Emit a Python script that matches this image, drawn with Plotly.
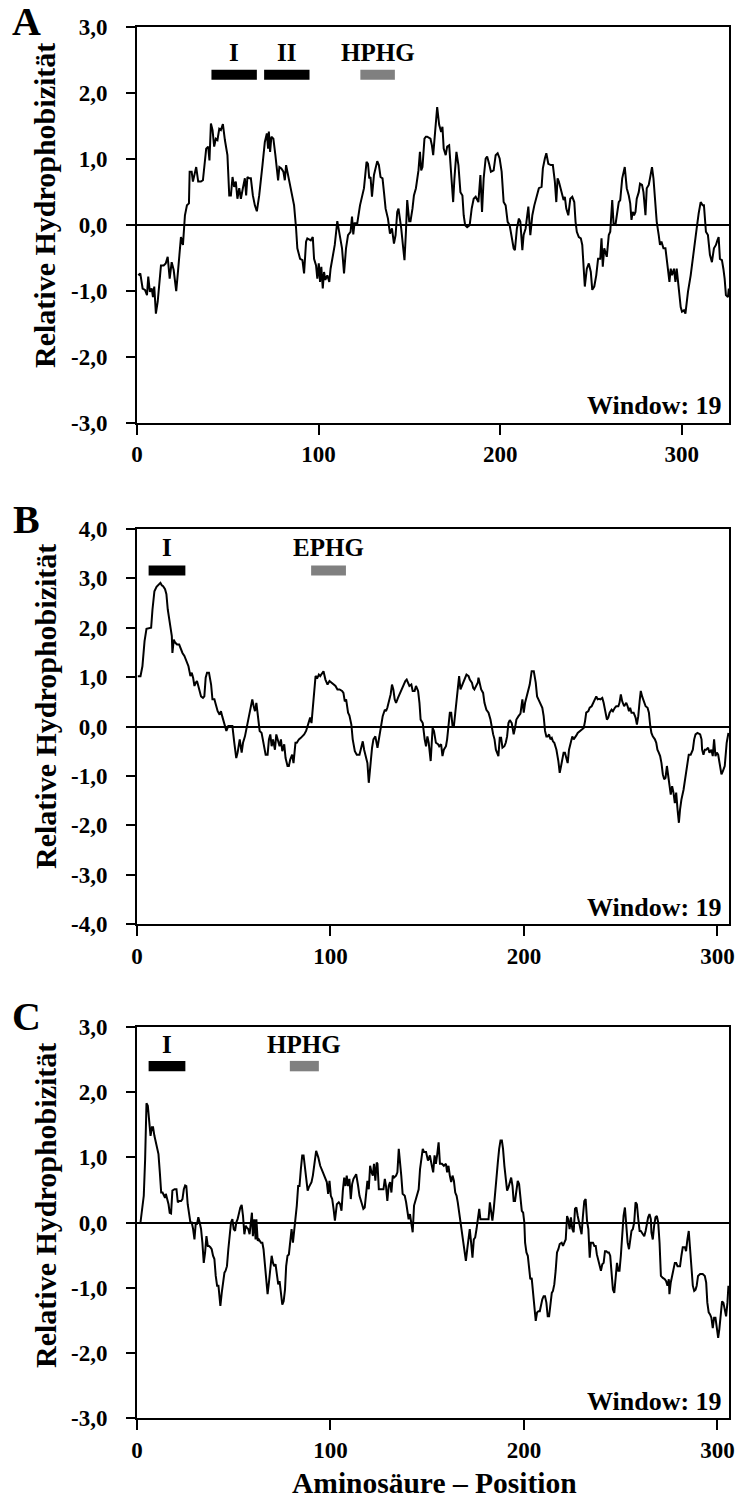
import plotly.graph_objects as go

# ---------------- data ----------------
A_x = [0.7,1.8,3.1,4.4,5.5,6.2,7.1,8.1,8.8,9.5,10.4,11.4,13.2,14.7,15.8,16.9,18.0,19.1,20.2,21.6,22.7,24.2,25.3,26.4,27.5,28.6,29.0,30.1,30.8,31.5,32.6,33.7,35.2,36.3,37.4,38.1,39.2,39.9,40.7,41.6,42.5,43.4,44.3,45.3,46.2,47.3,48.4,49.8,50.8,51.7,52.6,53.5,54.4,55.3,56.3,57.2,58.3,59.4,60.1,60.8,61.8,62.7,63.8,64.9,66.0,67.3,69.1,70.4,71.5,72.2,72.6,73.3,74.0,75.1,76.2,77.0,77.7,78.4,79.5,80.6,81.4,82.1,83.2,84.3,85.4,86.5,87.6,88.3,89.8,91.1,92.0,93.1,93.8,95.7,96.8,97.5,98.6,99.3,100.1,100.8,101.5,102.3,103.0,103.7,104.8,105.9,106.6,107.7,108.9,110.3,111.4,112.9,114.0,115.1,116.2,117.6,118.4,119.1,119.8,121.3,122.8,123.9,125.0,126.4,127.2,127.9,128.6,129.4,130.5,132.3,133.2,134.1,135.2,136.0,136.9,138.2,139.3,140.4,141.5,142.4,143.3,144.0,144.8,145.5,146.6,147.3,148.1,148.8,149.9,150.6,151.7,152.5,153.6,154.3,155.0,155.8,156.5,157.2,158.3,159.1,159.8,161.6,162.4,163.1,164.2,165.3,166.4,167.5,168.2,168.9,170.0,170.8,171.9,172.6,173.3,174.1,174.8,175.9,177.0,178.1,179.2,179.9,180.7,181.8,183.2,184.3,185.4,186.5,188.0,189.1,190.0,190.9,192.0,192.8,193.9,194.9,196.4,197.5,198.6,199.7,200.8,201.9,203.0,204.1,205.2,206.3,207.4,208.1,209.2,210.3,211.1,212.2,212.9,214.0,214.7,215.5,216.6,217.7,218.8,219.9,221.3,222.8,223.5,224.6,225.4,226.5,227.9,229.0,230.1,230.9,231.6,232.3,233.1,234.2,234.9,235.6,236.4,237.5,238.6,239.7,240.8,241.5,242.2,243.3,244.4,245.2,245.9,246.6,247.7,248.8,249.9,250.7,251.8,252.9,253.9,255.1,255.8,256.5,257.3,258.0,258.7,259.8,260.6,261.7,262.4,263.5,264.2,265.3,266.1,267.2,268.6,269.7,270.8,271.6,272.3,273.0,273.7,274.5,275.2,276.3,277.0,278.1,278.9,280.0,280.7,281.8,282.5,283.6,284.4,285.5,286.2,287.3,288.0,288.8,289.9,291.0,292.1,293.2,293.9,294.6,295.7,296.5,297.2,298.3,299.4,300.1,301.2,302.0,303.4,304.9,306.4,308.2,309.3,310.4,311.5,312.2,313.3,314.4,315.5,316.6,317.7,318.8,319.6,320.3,321.0,322.1,322.9,323.6,324.3,325.4,325.9]
A_y = [-0.77,-0.74,-0.97,-0.99,-1.07,-0.79,-1.02,-0.97,-1.10,-0.94,-1.35,-1.17,-0.62,-0.62,-0.59,-0.49,-0.82,-0.57,-0.69,-1.01,-0.67,-0.19,-0.31,0.14,0.29,0.32,0.80,0.80,0.65,0.75,0.87,0.65,0.65,0.67,0.97,1.15,1.18,0.97,1.53,1.43,1.18,1.30,1.28,1.45,1.43,1.52,1.28,1.05,0.44,0.44,0.72,0.57,0.65,0.39,0.55,0.39,0.55,0.70,0.44,0.72,0.70,0.70,0.44,0.29,0.20,0.44,0.90,1.25,1.38,1.15,1.41,1.10,1.33,1.30,1.05,0.87,0.67,0.87,0.85,0.80,0.67,0.90,0.75,0.60,0.44,0.29,-0.06,-0.36,-0.52,-0.54,-0.74,-0.26,-0.21,-0.24,-0.19,-0.52,-0.62,-0.82,-0.59,-0.87,-0.64,-0.97,-0.72,-0.84,-0.77,-0.87,-0.67,-0.52,-0.31,0.05,-0.11,-0.36,-0.74,-0.36,-0.16,-0.11,0.12,-0.15,0.02,0.02,0.29,0.44,0.55,0.95,0.92,0.70,0.72,0.42,0.75,0.96,0.90,0.72,0.70,0.49,0.24,0.09,-0.14,-0.06,-0.29,-0.16,0.19,0.24,0.09,-0.06,-0.36,-0.54,-0.11,0.37,0.05,0.05,0.24,0.44,0.55,0.67,0.82,1.10,0.82,0.87,1.30,1.33,1.33,1.30,1.20,1.05,1.40,1.78,1.51,1.40,1.48,1.15,1.05,1.18,1.20,0.90,0.55,0.34,0.70,1.10,0.90,0.49,0.44,0.14,-0.01,-0.04,-0.01,0.24,0.39,0.42,0.34,0.75,0.19,0.70,1.00,1.03,0.92,0.80,0.82,1.05,1.08,1.00,0.80,0.34,0.29,0.04,-0.01,-0.19,-0.36,-0.39,-0.06,0.09,0.04,-0.39,-0.16,-0.06,0.09,0.27,-0.16,0.14,0.29,0.42,0.55,0.57,0.85,1.00,1.08,0.92,0.90,0.90,0.65,0.34,0.70,0.65,0.55,0.44,0.37,0.42,0.24,0.14,0.39,0.42,0.34,0.04,-0.11,-0.19,-0.21,-0.31,-0.67,-0.94,-0.67,-0.59,-0.72,-0.99,-0.94,-0.77,-0.52,-0.52,-0.21,-0.64,-0.36,-0.44,-0.49,-0.16,-0.11,0.37,0.02,0.00,0.14,0.34,0.37,0.70,0.87,0.55,0.44,0.32,0.07,0.19,0.14,0.19,0.39,0.49,0.62,0.60,0.49,0.14,0.55,0.60,0.70,0.87,0.70,0.34,0.04,-0.16,-0.31,-0.26,-0.36,-0.36,-0.67,-0.87,-0.67,-0.77,-0.67,-0.87,-0.67,-0.97,-1.25,-1.32,-1.30,-1.35,-1.02,-0.77,-0.41,-0.06,0.17,0.34,0.29,0.29,-0.11,-0.16,-0.46,-0.57,-0.36,-0.31,-0.24,-0.19,-0.52,-0.54,-0.67,-0.82,-1.07,-1.10,-0.97]

B_x = [0.4,1.8,2.8,3.9,4.9,6.3,7.3,8.0,9.0,10.1,11.1,12.1,12.8,13.5,14.5,15.2,15.9,16.6,17.3,18.0,18.3,19.0,19.7,20.7,21.8,22.4,23.5,24.5,25.5,26.6,27.6,28.3,29.0,29.7,30.4,31.0,31.7,32.4,33.1,34.1,34.8,35.5,36.2,37.2,38.3,39.0,40.0,40.7,41.7,42.7,43.4,44.1,45.1,46.2,47.2,48.2,49.3,50.3,51.3,52.0,53.1,54.1,54.8,55.8,56.5,57.5,58.6,59.6,60.3,61.0,61.7,62.4,63.4,64.4,65.4,66.5,67.5,68.2,68.9,69.6,70.3,71.3,72.0,73.0,73.7,74.4,75.1,76.1,76.8,77.8,78.5,79.2,80.2,80.9,81.9,82.6,83.7,84.7,85.4,86.4,87.4,88.5,89.5,90.2,90.9,91.6,92.3,93.3,94.0,94.7,95.7,96.4,97.4,98.5,99.5,100.5,101.6,102.6,103.6,104.7,106.0,106.7,107.4,108.1,109.1,109.8,110.8,111.5,112.6,113.6,115.0,116.0,116.7,117.4,118.4,119.1,119.8,120.5,121.5,122.2,123.2,124.3,125.3,126.0,127.0,128.1,128.7,129.4,130.1,131.1,131.8,132.5,133.2,133.9,134.9,135.6,136.6,137.7,138.7,139.4,140.1,140.8,141.8,142.5,143.5,144.2,145.3,146.0,146.6,147.7,148.7,149.4,150.1,150.8,151.8,152.8,153.5,154.5,155.6,156.2,157.2,157.9,158.6,159.7,160.3,161.0,161.7,162.4,163.1,163.8,164.8,165.8,166.5,167.2,167.9,168.6,169.6,170.3,171.4,172.0,173.1,173.8,174.4,175.5,176.2,176.5,177.2,177.9,178.9,179.6,180.6,181.7,182.7,183.4,184.1,184.8,185.5,186.1,186.8,187.5,188.2,188.9,189.9,190.6,191.3,192.0,192.7,193.7,194.7,195.4,196.1,197.2,198.2,199.2,199.9,200.6,201.3,202.0,203.0,204.0,205.1,206.1,206.8,207.5,208.5,209.5,210.2,210.9,211.6,212.3,213.0,213.7,214.4,215.0,215.7,216.8,217.8,218.5,219.2,219.9,220.5,221.2,221.9,222.6,223.3,224.0,225.0,225.7,226.4,227.1,227.8,228.5,229.1,230.2,230.9,231.6,232.2,233.3,234.0,235.0,235.7,236.4,237.4,238.1,238.8,239.5,240.5,241.2,241.9,242.9,243.6,244.3,245.3,246.0,247.0,247.7,248.8,249.4,250.1,250.8,251.8,252.9,253.6,254.3,254.9,255.6,256.7,257.7,258.4,259.1,259.8,260.4,261.1,262.2,262.9,263.9,264.6,265.3,265.9,266.6,267.7,268.4,269.0,269.7,270.4,271.1,271.8,272.5,273.2,273.9,274.6,275.2,275.9,276.6,277.3,278.0,278.7,279.4,280.1,280.7,281.4,282.5,283.5,284.2,285.2,286.2,287.3,288.0,288.7,289.7,291.1,291.8,292.1,292.8,293.5,294.2,295.2,295.9,296.9,297.6,298.3,299.0,299.7,300.4,301.4,302.1,302.8,303.8,304.8,305.7]
B_y = [1.02,1.02,1.22,1.73,1.98,1.99,2.00,2.37,2.74,2.83,2.88,2.91,2.86,2.84,2.78,2.68,2.37,2.17,1.97,1.83,1.49,1.76,1.70,1.66,1.66,1.59,1.49,1.43,1.32,1.22,1.02,1.09,0.99,0.82,0.89,0.92,0.82,0.72,0.61,0.58,0.61,0.99,1.09,1.09,0.85,0.55,0.55,0.45,0.31,0.24,0.31,0.20,0.07,-0.09,0.01,0.01,0.01,-0.33,-0.64,-0.53,-0.26,-0.53,-0.33,-0.20,-0.06,0.21,0.38,0.55,0.41,0.31,0.48,0.21,-0.09,-0.13,-0.33,-0.57,-0.57,-0.26,-0.16,-0.40,-0.26,-0.47,-0.16,-0.33,-0.40,-0.26,-0.50,-0.36,-0.64,-0.80,-0.80,-0.67,-0.57,-0.74,-0.33,-0.33,-0.26,-0.23,-0.20,-0.16,-0.09,0.07,0.18,0.07,0.41,0.78,1.02,0.99,1.05,1.02,1.09,1.12,0.95,0.85,0.92,0.89,0.85,0.82,0.75,0.75,0.72,0.68,0.51,0.55,0.28,0.22,0.04,-0.26,-0.50,-0.57,-0.57,-0.43,-0.30,-0.47,-0.64,-0.74,-1.14,-0.80,-0.43,-0.26,-0.20,-0.43,-0.20,-0.06,0.21,0.34,0.31,0.38,0.48,0.65,0.85,0.75,0.55,0.48,0.58,0.65,0.72,0.82,0.92,0.95,0.89,0.82,0.85,0.72,0.72,0.82,0.72,0.48,0.14,0.07,-0.26,-0.40,-0.20,-0.33,-0.70,-0.03,-0.09,-0.33,-0.36,-0.40,-0.36,-0.60,-0.47,-0.40,-0.26,0.01,0.28,0.28,0.01,0.01,0.34,0.75,1.02,0.75,0.82,0.92,1.02,1.05,1.02,0.95,0.89,0.78,0.75,0.82,0.89,0.99,0.89,0.75,0.68,0.48,0.34,0.28,0.14,-0.03,-0.16,-0.26,-0.47,-0.53,-0.60,-0.23,-0.23,-0.43,-0.40,-0.33,-0.20,0.07,0.13,0.07,-0.16,-0.03,0.14,0.21,0.26,0.55,0.28,0.48,0.58,0.72,0.85,1.12,1.12,0.89,0.61,0.55,0.48,0.38,0.21,-0.09,-0.20,-0.20,-0.16,-0.26,-0.23,-0.30,-0.33,-0.47,-0.70,-0.94,-0.80,-0.60,-0.53,-0.53,-0.64,-0.74,-0.47,-0.36,-0.20,-0.26,-0.23,-0.18,-0.13,-0.11,-0.09,-0.06,-0.03,0.11,0.28,0.31,0.38,0.41,0.48,0.55,0.61,0.55,0.56,0.55,0.58,0.48,0.31,0.14,0.18,0.28,0.34,0.31,0.38,0.41,0.41,0.48,0.65,0.51,0.41,0.48,0.41,0.31,0.38,0.28,0.28,0.18,0.04,0.21,0.51,0.72,0.61,0.48,0.41,0.38,0.28,0.01,-0.13,-0.20,-0.26,-0.33,-0.47,-0.53,-0.60,-0.74,-0.97,-1.07,-1.04,-0.80,-1.01,-1.18,-1.38,-1.21,-1.34,-1.55,-1.34,-1.68,-1.95,-1.68,-1.48,-1.28,-1.01,-0.80,-0.57,-0.57,-0.47,-0.26,-0.16,-0.13,-0.16,-0.26,-0.47,-0.57,-0.47,-0.47,-0.43,-0.53,-0.47,-0.60,-0.26,-0.60,-0.53,-0.57,-0.87,-0.97,-0.91,-0.80,-0.33,-0.13]

C_x = [1.8,2.8,3.5,4.2,4.9,5.6,6.3,7.0,7.7,8.3,9.0,9.7,10.4,11.1,11.8,12.5,13.2,13.8,14.5,14.9,15.6,16.3,16.9,17.6,18.3,19.4,20.4,21.1,21.8,22.8,23.5,24.2,24.9,25.5,26.2,26.9,27.6,28.3,29.0,29.7,30.4,31.0,31.7,32.4,33.1,33.8,34.5,35.2,35.9,36.6,37.2,37.9,38.6,39.3,40.0,40.7,41.4,42.1,42.7,43.1,43.8,44.5,45.2,45.8,46.5,47.2,47.9,48.6,49.3,50.0,50.7,51.3,52.0,52.7,53.4,54.1,54.8,55.5,56.2,56.8,57.5,58.2,58.9,59.4,59.9,60.6,61.3,61.7,62.4,63.0,64.1,64.8,65.4,66.1,66.8,67.5,68.2,68.9,69.6,70.3,70.9,71.6,72.3,73.0,73.7,74.4,75.1,75.8,76.5,77.1,77.8,78.5,79.2,79.9,80.6,81.3,82.0,82.6,83.3,84.0,84.7,85.4,86.1,86.8,87.5,88.2,88.8,89.5,90.2,90.9,91.6,92.6,93.7,94.7,96.1,97.1,98.1,98.8,99.5,100.2,100.9,101.6,102.3,103.3,104.3,105.0,105.7,106.4,107.1,107.8,108.4,109.1,109.8,110.5,111.2,111.9,112.6,113.3,114.3,115.0,116.0,117.0,117.7,118.4,119.1,119.8,120.5,121.2,121.9,122.5,123.2,123.9,124.3,125.0,125.6,126.7,127.4,128.1,128.7,129.4,130.1,130.8,131.5,132.2,132.9,133.9,134.6,135.3,135.9,136.6,137.3,138.4,139.1,139.8,140.4,141.1,141.8,142.5,143.2,143.9,144.9,145.6,146.3,147.0,147.7,148.4,149.4,150.4,151.4,152.4,153.1,153.8,154.5,155.2,155.9,156.6,157.6,158.6,159.7,160.3,161.0,161.7,162.4,163.1,163.8,164.5,165.2,165.8,166.5,167.2,167.9,168.6,169.3,170.0,170.7,171.4,172.0,172.7,173.4,174.1,174.8,175.5,176.2,176.9,177.5,178.6,179.6,180.6,181.7,182.4,183.0,183.7,184.4,185.1,185.8,186.5,187.2,187.9,188.6,189.2,189.9,190.6,191.3,192.0,192.7,193.4,194.1,194.7,195.4,196.1,196.8,197.5,198.2,198.9,199.6,200.2,200.6,201.3,202.0,202.7,203.3,204.0,204.7,205.4,206.1,206.8,207.5,208.2,208.8,209.5,210.2,210.9,211.6,212.3,213.0,213.7,214.4,215.0,215.7,216.4,217.1,217.8,218.5,219.5,220.2,220.9,221.6,222.3,222.9,223.6,224.3,225.0,225.7,226.4,227.1,227.8,228.5,229.1,229.8,230.5,231.2,231.9,232.6,233.3,234.0,234.6,235.7,236.4,237.1,237.7,238.4,239.1,239.8,240.5,241.2,241.9,242.6,243.2,243.9,244.6,245.3,246.0,246.7,247.4,248.1,248.8,249.4,250.1,250.8,251.5,252.2,252.9,253.6,254.3,254.9,255.6,256.3,257.0,257.7,258.4,259.1,259.8,260.4,261.5,262.2,262.9,263.5,264.2,264.9,265.6,265.9,266.6,267.3,268.0,268.7,269.4,270.1,270.8,271.8,272.8,273.5,274.2,274.9,275.2,275.9,276.6,277.3,278.0,278.7,279.4,280.1,280.7,281.4,282.1,283.2,283.8,284.5,285.2,285.9,286.6,287.3,288.0,288.7,289.3,290.0,291.1,292.4,293.5,294.2,294.8,295.5,296.2,296.9,297.6,298.3,299.0,299.7,300.4,301.0,301.7,302.4,303.1,303.8,304.5,305.2,305.7]
C_y = [0.00,0.21,0.41,0.97,1.83,1.79,1.59,1.33,1.46,1.46,1.33,1.23,1.13,1.05,0.77,0.46,0.46,0.41,0.38,0.44,0.35,0.28,0.15,0.14,0.49,0.51,0.51,0.31,0.33,0.33,0.36,0.51,0.57,0.56,0.28,0.15,0.00,0.00,-0.10,-0.26,0.00,-0.03,0.08,0.00,-0.10,-0.31,-0.62,-0.46,-0.21,-0.36,-0.36,-0.38,-0.41,-0.51,-0.56,-0.82,-0.97,-0.97,-1.13,-1.28,-1.08,-0.87,-0.77,-0.74,-0.67,-0.41,-0.21,0.00,0.05,-0.10,-0.13,0.00,0.05,0.15,0.23,0.27,0.10,-0.18,-0.05,-0.08,-0.10,-0.18,0.00,0.15,-0.21,0.05,-0.26,0.05,-0.28,-0.26,-0.31,-0.31,-0.41,-0.62,-0.92,-1.10,-0.92,-0.67,-0.51,-0.62,-0.67,-0.64,-0.82,-0.95,-0.90,-1.13,-1.26,-1.21,-1.03,-0.67,-0.51,-0.49,-0.31,-0.10,-0.31,-0.10,0.00,0.26,0.56,0.56,0.82,1.03,1.03,0.87,0.72,0.49,0.54,0.59,0.62,0.72,0.92,1.10,1.00,0.87,0.77,0.69,0.62,0.44,0.64,0.41,0.36,0.21,0.03,0.28,0.31,0.28,0.18,0.49,0.69,0.56,0.72,0.56,0.67,0.36,0.59,0.67,0.72,0.74,0.56,0.41,0.31,0.21,0.23,0.41,0.64,0.51,0.87,0.77,0.72,0.90,0.64,0.92,0.90,0.51,0.51,0.51,0.51,0.67,0.56,0.33,0.56,0.62,0.46,0.72,0.69,0.72,0.77,1.13,0.97,0.72,0.44,0.41,0.31,0.15,0.05,0.13,0.00,-0.15,0.26,0.33,0.41,0.51,0.82,0.97,1.13,1.08,1.08,0.95,1.03,0.87,0.77,1.03,0.90,1.05,1.23,0.90,0.90,0.87,0.90,0.77,0.87,0.72,0.62,0.72,0.64,0.46,0.41,0.31,0.15,0.00,-0.15,-0.31,-0.46,-0.59,-0.41,-0.21,-0.10,-0.31,-0.54,-0.26,-0.23,-0.10,0.05,0.21,0.05,0.05,0.05,0.06,0.05,0.31,0.21,0.03,0.21,0.41,0.67,0.92,1.13,1.26,1.26,1.13,0.87,0.62,0.49,0.54,0.62,0.69,0.56,0.33,0.33,0.46,0.64,0.59,0.36,0.18,0.15,0.00,-0.31,-0.46,-0.51,-0.67,-0.87,-0.85,-1.05,-1.28,-1.51,-1.38,-1.36,-1.36,-1.26,-1.18,-1.13,-1.13,-1.23,-1.44,-1.44,-1.23,-1.08,-1.05,-0.95,-0.74,-0.46,-0.41,-0.33,-0.31,-0.36,-0.31,-0.26,0.10,0.05,-0.10,0.08,-0.10,-0.15,0.21,0.23,0.10,0.00,-0.10,-0.18,0.10,0.33,0.36,0.03,-0.10,-0.54,-0.31,-0.31,-0.36,-0.36,-0.49,-0.59,-0.67,-0.74,-0.64,-0.62,-0.44,-0.44,-0.46,-0.46,-0.51,-0.82,-1.03,-1.08,-0.77,-0.62,-0.74,-0.74,-0.51,-0.10,0.10,0.23,-0.05,-0.31,-0.41,-0.26,-0.13,-0.10,0.00,0.31,0.28,0.05,-0.13,-0.13,-0.18,-0.21,-0.13,0.00,0.08,0.13,0.05,-0.15,-0.26,-0.05,0.08,0.10,0.00,-0.31,-0.82,-0.85,-0.87,-0.90,-0.97,-0.87,-1.10,-0.92,-0.79,-0.72,-0.62,-0.62,-0.67,-0.67,-0.67,-0.51,-0.38,-0.38,-0.44,-0.26,-0.13,-0.41,-0.72,-0.97,-1.05,-1.03,-0.97,-0.82,-0.79,-0.79,-0.82,-0.92,-1.23,-1.38,-1.41,-1.46,-1.62,-1.46,-1.46,-1.59,-1.77,-1.64,-1.44,-1.21,-1.23,-1.36,-1.44,-1.23,-0.97]

# Annotated segments (residue start, residue end)
A_segments = [("I", 41, 66), ("II", 70, 95), ("HPHG", 123, 142)]
B_segments = [("I", 6, 25), ("EPHG", 90, 108)]
C_segments = [("I", 6, 25), ("HPHG", 79, 94)]
segment_kinds = {"I": "black", "II": "black", "HPHG": "#808080", "EPHG": "#808080"}

A_yticks = [3, 2, 1, 0, -1, -2, -3]
A_yticktext = ["3,0", "2,0", "1,0", "0,0", "-1,0", "-2,0", "-3,0"]
B_yticks = [4, 3, 2, 1, 0, -1, -2, -3, -4]
B_yticktext = ["4,0", "3,0", "2,0", "1,0", "0,0", "-1,0", "-2,0", "-3,0", "-4,0"]
C_yticks = A_yticks
C_yticktext = A_yticktext
x_ticks = [0, 100, 200, 300]
x_ticktext = ["0", "100", "200", "300"]

panel_letters = ["A", "B", "C"]
window_text = "Window: 19"
y_title = "Relative Hydrophobizität"
x_title = "Aminosäure – Position"

# ---------------- figure ----------------
W, H = 742, 1506
FONT = "Liberation Serif"

def py(p):  # pixel row -> paper y
    return 1 - p / H

panels = [
    dict(x=A_x, y=A_y, seg=A_segments, yt=A_yticks, ytt=A_yticktext, yr=[-3, 3], xr=[0, 326],
         top=26.5, bot=422.5, bar_y=(2.195, 2.345), lab_y=2.6, title_c=206, letter_y=22),
    dict(x=B_x, y=B_y, seg=B_segments, yt=B_yticks, ytt=B_yticktext, yr=[-4, 4], xr=[0, 306],
         top=529, bot=924, bar_y=(3.06, 3.26), lab_y=3.62, title_c=707, letter_y=519),
    dict(x=C_x, y=C_y, seg=C_segments, yt=C_yticks, ytt=C_yticktext, yr=[-3, 3], xr=[0, 306],
         top=1027, bot=1418, bar_y=(2.32, 2.48), lab_y=2.73, title_c=1206, letter_y=1017),
]

fig = go.Figure()
layout = dict(width=W, height=H, margin=dict(l=0, r=0, t=0, b=0, autoexpand=False),
              paper_bgcolor="white", plot_bgcolor="white", showlegend=False,
              font=dict(family=FONT, color="black"))
annotations = []
shapes = []
xdom = [137 / W, 729 / W]

for i, p in enumerate(panels):
    n = "" if i == 0 else str(i + 1)
    xa, ya = "x" + n, "y" + n
    fig.add_trace(go.Scatter(x=p["x"], y=p["y"], mode="lines", xaxis=xa, yaxis=ya,
                             line=dict(color="black", width=2), hoverinfo="skip"))
    layout["xaxis" + n] = dict(domain=xdom, anchor=ya, range=p["xr"], tickvals=x_ticks,
                               ticktext=x_ticktext, ticks="outside", ticklen=10, tickwidth=2,
                               tickcolor="black", showline=True, linewidth=2, linecolor="black",
                               mirror=True, showgrid=False, zeroline=False, automargin=False,
                               fixedrange=True,
                               tickfont=dict(family=FONT, size=23, weight="bold"))
    layout["yaxis" + n] = dict(domain=[py(p["bot"]), py(p["top"])], anchor=xa, range=p["yr"],
                               tickvals=p["yt"], ticktext=p["ytt"], ticks="outside", ticklen=9,
                               tickwidth=2, tickcolor="black", showline=True, linewidth=2,
                               linecolor="black", mirror=True, showgrid=False, automargin=False,
                               zeroline=True, zerolinewidth=2, zerolinecolor="black",
                               ticklabelstandoff=14, fixedrange=True,
                               tickfont=dict(family=FONT, size=23, weight="bold"))
    for name, s0, s1 in p["seg"]:
        shapes.append(dict(type="rect", xref=xa, yref=ya, x0=s0, x1=s1,
                           y0=p["bar_y"][0], y1=p["bar_y"][1],
                           fillcolor=segment_kinds[name], line=dict(width=0)))
        annotations.append(dict(xref=xa, yref=ya, x=(s0 + s1) / 2, y=p["lab_y"], text=name,
                                showarrow=False, xanchor="center", yanchor="middle",
                                font=dict(family=FONT, size=25, weight="bold")))
    annotations.append(dict(xref="paper", yref="paper", x=724 / W, y=py(p["bot"] - 17),
                            text=window_text, showarrow=False, xanchor="right", yanchor="middle",
                            font=dict(family=FONT, size=26, weight="bold")))
    annotations.append(dict(xref="paper", yref="paper", x=45 / W, y=py(p["title_c"]),
                            text=y_title, textangle=-90, showarrow=False, xanchor="center",
                            yanchor="middle", font=dict(family=FONT, size=30, weight="bold")))
    annotations.append(dict(xref="paper", yref="paper", x=26 / W, y=py(p["letter_y"]),
                            text=panel_letters[i], showarrow=False, xanchor="center",
                            yanchor="middle", font=dict(family=FONT, size=40, weight="bold")))

annotations.append(dict(xref="paper", yref="paper", x=435 / W, y=py(1483), text=x_title,
                        showarrow=False, xanchor="center", yanchor="middle",
                        font=dict(family=FONT, size=29.5, weight="bold")))
layout["annotations"] = annotations
layout["shapes"] = shapes
fig.update_layout(**layout)
fig.write_html("out.html", config={"displayModeBar": False, "staticPlot": True},
               post_script="document.body.style.margin='0';document.body.style.overflow='hidden';")
